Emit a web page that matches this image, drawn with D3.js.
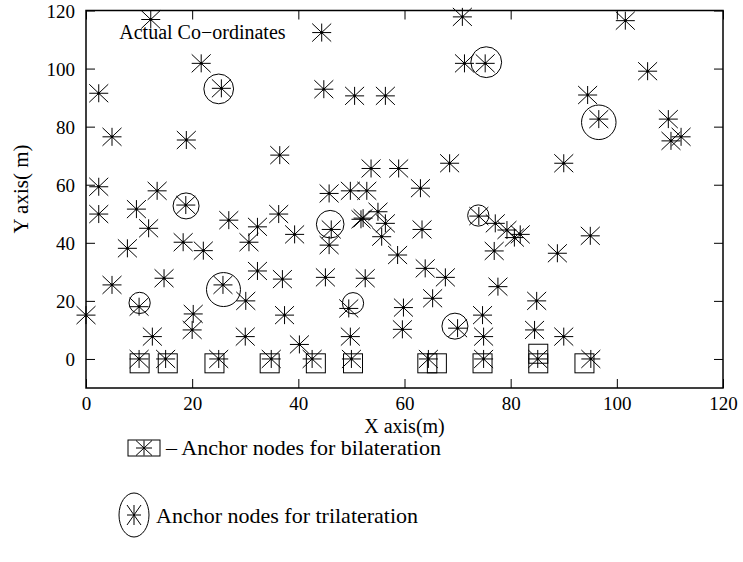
<!DOCTYPE html>
<html><head><meta charset="utf-8">
<script src="https://cdn.jsdelivr.net/npm/d3@7"></script>
<style>
body{margin:0;background:#fff}
svg{display:block}
text{font-family:"Liberation Serif","Times New Roman",serif;fill:#000}
</style>
</head><body>
<svg id="c" width="743" height="562"></svg>
<script>
// ---- data ----
const xTicks = [0, 20, 40, 60, 80, 100, 120];
const yTicks = [0, 20, 40, 60, 80, 100, 120];

// actual node co-ordinates (m)
const nodeX = [12.2,44.4,70.9,101.6,21.7,71.3,75.2,2.4,25.5,44.8,50.6,56.4,94.5,105.8,4.9,18.9,36.5,96.6,109.7,110.2,112.1,90.0,68.5,53.7,58.9,2.4,13.4,18.8,45.8,49.8,52.9,63.0,
  2.4,9.5,11.8,7.8,18.3,22.1,26.9,32.3,36.3,30.7,39.3,46.2,45.8,51.8,52.2,55.0,56.4,55.7,63.3,58.7,74.0,77.1,79.3,80.7,81.8,76.9,88.8,95.0,
  4.9,14.7,25.8,32.3,37.0,45.1,52.6,63.9,67.7,65.3,77.6,84.9,30.1,10.0,0.0,20.2,20.0,12.5,30.0,37.4,40.2,49.5,59.8,59.6,49.8,70.0,74.7,74.9,84.5,90.0,
  10.0,15.0,25.0,34.9,42.6,50.0,64.5,74.9,85.1,95.1];
const nodeY = [116.9,112.4,117.8,116.5,101.8,101.8,101.8,91.5,93.2,92.9,90.6,90.6,90.9,99.1,76.5,75.4,70.2,82.6,82.6,75.1,76.5,67.4,67.4,65.6,65.6,59.3,57.9,53.0,57.0,57.9,57.9,58.8,
  49.9,51.6,45.0,38.1,40.2,37.3,47.8,45.5,49.9,40.2,42.9,44.6,39.2,48.1,48.5,50.7,46.7,42.1,44.6,35.8,49.2,46.7,44.4,41.8,42.9,37.2,36.4,42.4,
  25.5,27.8,25.5,30.3,27.5,28.1,27.8,31.2,28.1,20.9,24.9,20.0,20.0,18.0,15.1,15.5,10.0,7.7,7.7,15.1,5.0,17.4,17.7,10.2,7.7,10.6,15.1,7.7,10.0,7.7,
  0,0,0,0,0,0,0,0,0,0];

// anchor nodes for bilateration (square markers)
const biX = [10.1,15.4,24.2,34.6,43.3,50.3,64.3,66.1,74.7,85.2,85.2,93.9];
const biY = [-1.5,-1.5,-1.5,-1.5,-1.5,-1.5,-1.5,-1.5,-1.5,-1.5,1.8,-1.5];

// anchor nodes for trilateration (circle markers, radius in m)
const triX = [25.0,75.4,96.6,18.85,46.0,73.9,25.9,10.1,50.3,69.5];
const triY = [93.0,102.2,81.5,52.7,46.4,49.4,23.9,19.3,19.2,11.3];
const triR = [2.8,2.9,3.25,2.45,2.6,2.0,3.2,2.0,2.0,2.45];

// ---- drawing ----
const svg = d3.select("#c");
const L = 86, R = 723, T = 10.5, B = 388;
const x = d3.scaleLinear().domain([0, 120]).range([L, R]);
const y = d3.scaleLinear().domain([-10, 120]).range([B, T]);

function starPath(h, v) {
  return `M${-h},0H${h}M0,${-v}V${v}M${-h},${-v}L${h},${v}M${-h},${v}L${h},${-v}`;
}

// axes with inward ticks
const gx = svg.append("g").attr("transform", `translate(0,${B})`)
  .call(d3.axisBottom(x).tickValues(xTicks).tickSizeInner(-9).tickSizeOuter(0).tickPadding(9));
const gxt = svg.append("g").attr("transform", `translate(0,${T})`)
  .call(d3.axisTop(x).tickValues(xTicks).tickSizeInner(-9).tickSizeOuter(0).tickFormat(""));
const gy = svg.append("g").attr("transform", `translate(${L},0)`)
  .call(d3.axisLeft(y).tickValues(yTicks).tickSizeInner(-9).tickSizeOuter(0).tickPadding(11));
const gyr = svg.append("g").attr("transform", `translate(${R},0)`)
  .call(d3.axisRight(y).tickValues(yTicks).tickSizeInner(-9).tickSizeOuter(0).tickFormat(""));
[gx, gxt, gy, gyr].forEach(g => {
  g.select(".domain").remove();
  g.selectAll(".tick line").attr("stroke", "#000").attr("stroke-width", 1);
  g.selectAll("text").style("font-size", "19px").attr("font-family", null);
  g.attr("font-family", null).attr("font-size", null);
});
gy.selectAll("text").attr("dy", "0.36em");

svg.append("rect").attr("x", L).attr("y", T).attr("width", R - L).attr("height", B - T)
  .attr("fill", "none").attr("stroke", "#000").attr("stroke-width", 1.5);

// axis titles
svg.append("text").attr("x", (L + R) / 2).attr("y", 432.7).attr("text-anchor", "middle")
  .style("font-size", "20px").text("X axis(m)");
svg.append("text").attr("transform", `translate(28,189) rotate(-90)`).attr("text-anchor", "middle")
  .style("font-size", "21px").text("Y axis( m)");

// chart label
svg.append("text").attr("x", 119.3).attr("y", 39.3).style("font-size", "20px").text("Actual Co\u2212ordinates");

const plot = svg.append("g");

// bilateration squares
plot.selectAll("rect.bi").data(d3.range(biX.length)).join("rect").attr("class", "bi")
  .attr("x", i => x(biX[i]) - 9.5).attr("y", i => y(biY[i]) - 9.5)
  .attr("width", 19).attr("height", 19)
  .attr("fill", "none").attr("stroke", "#000").attr("stroke-width", 1);

// trilateration circles
plot.selectAll("circle.tri").data(d3.range(triX.length)).join("circle").attr("class", "tri")
  .attr("cx", i => x(triX[i])).attr("cy", i => y(triY[i]))
  .attr("r", i => x(triR[i]) - x(0))
  .attr("fill", "none").attr("stroke", "#000").attr("stroke-width", 1);

// node stars
const nodes = plot.selectAll("g.node").data(d3.range(nodeX.length)).join("g").attr("class", "node")
  .attr("transform", i => `translate(${x(nodeX[i])},${y(nodeY[i])})`);
nodes.append("path").attr("d", starPath(9.5, 9)).attr("stroke", "#000").attr("stroke-width", 1).attr("fill", "none");
nodes.append("circle").attr("r", 1.4).attr("fill", "#000");

// legend
const lg1 = svg.append("g");
lg1.append("rect").attr("x", 128).attr("y", 440).attr("width", 32).attr("height", 16)
  .attr("fill", "none").attr("stroke", "#000").attr("stroke-width", 1);
lg1.append("path").attr("transform", "translate(144,448)").attr("d", starPath(8, 7.5))
  .attr("stroke", "#000").attr("stroke-width", 1).attr("fill", "none");
lg1.append("text").attr("x", 166).attr("y", 455).style("font-size", "22px").text("\u2013 Anchor nodes for bilateration");

const lg2 = svg.append("g");
lg2.append("ellipse").attr("cx", 134).attr("cy", 515).attr("rx", 15).attr("ry", 22)
  .attr("fill", "none").attr("stroke", "#000").attr("stroke-width", 1);
lg2.append("path").attr("transform", "translate(134,515)").attr("d", starPath(7, 10))
  .attr("stroke", "#000").attr("stroke-width", 1).attr("fill", "none");
lg2.append("text").attr("x", 156).attr("y", 523).style("font-size", "22px").text("Anchor nodes for trilateration");
</script>
</body></html>
